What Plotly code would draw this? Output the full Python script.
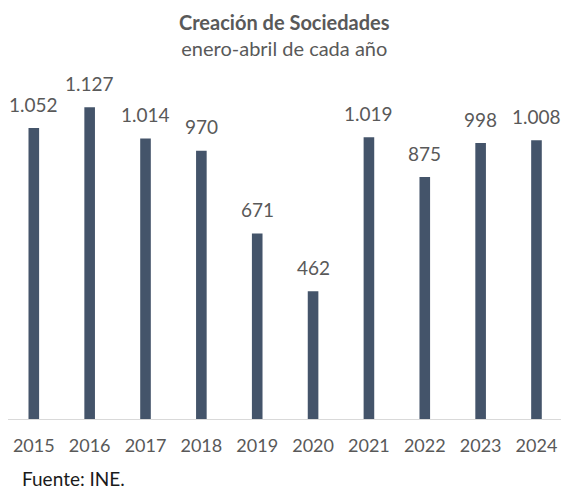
import plotly.graph_objects as go

years = ["2015", "2016", "2017", "2018", "2019", "2020", "2021", "2022", "2023", "2024"]
values = [1052, 1127, 1014, 970, 671, 462, 1019, 875, 998, 1008]

title = "Creación de Sociedades"
subtitle = "enero-abril de cada año"
source = "Fuente: INE."

FONT = "Lato, Calibri, Carlito, sans-serif"
TXT = "#595959"
positions = list(range(len(years)))


def fmt(v):
    return f"{v:,}".replace(",", ".")


fig = go.Figure()
fig.add_trace(go.Bar(
    x=positions, y=values,
    width=0.19,
    marker=dict(color="#44546A", line=dict(width=0)),
    hoverinfo="skip",
))

annotations = [
    dict(x=p, y=v, xref="x", yref="y", text=fmt(v), showarrow=False,
         xanchor="center", yanchor="middle", yshift=24,
         font=dict(family=FONT, size=19, color=TXT))
    for p, v in zip(positions, values)
]
annotations += [
    dict(text="<b>" + title + "</b><br>" + subtitle,
         xref="paper", yref="paper",
         x=0.5, y=1, xanchor="center", yanchor="middle", align="center",
         yshift=35, showarrow=False,
         font=dict(family=FONT, size=20, color=TXT)),
    dict(text=source, xref="paper", yref="paper",
         x=0, y=0, xanchor="left", yanchor="middle",
         xshift=12, yshift=-59, showarrow=False,
         font=dict(family=FONT, size=19, color="#1a1a1a")),
]

# the page body has an 8px margin; the figure is sized to fit the window
fig.update_layout(
    width=553, height=481,
    margin=dict(l=0, r=0, t=62, b=70),
    paper_bgcolor="white", plot_bgcolor="white",
    showlegend=False,
    font=dict(family=FONT, color=TXT),
    xaxis=dict(
        tickmode="array", tickvals=positions, ticktext=years,
        range=[-0.462, 9.439],
        showgrid=False, zeroline=False,
        showline=True, linecolor="#D9D9D9", linewidth=1,
        ticks="", ticklabelstandoff=10, ticklabeloverflow="allow",
        tickfont=dict(family=FONT, size=18, color=TXT),
        fixedrange=True,
    ),
    yaxis=dict(
        range=[0, 1262], visible=False, showgrid=False, zeroline=False,
        fixedrange=True,
    ),
    annotations=annotations,
)

fig.write_html("out.html")
